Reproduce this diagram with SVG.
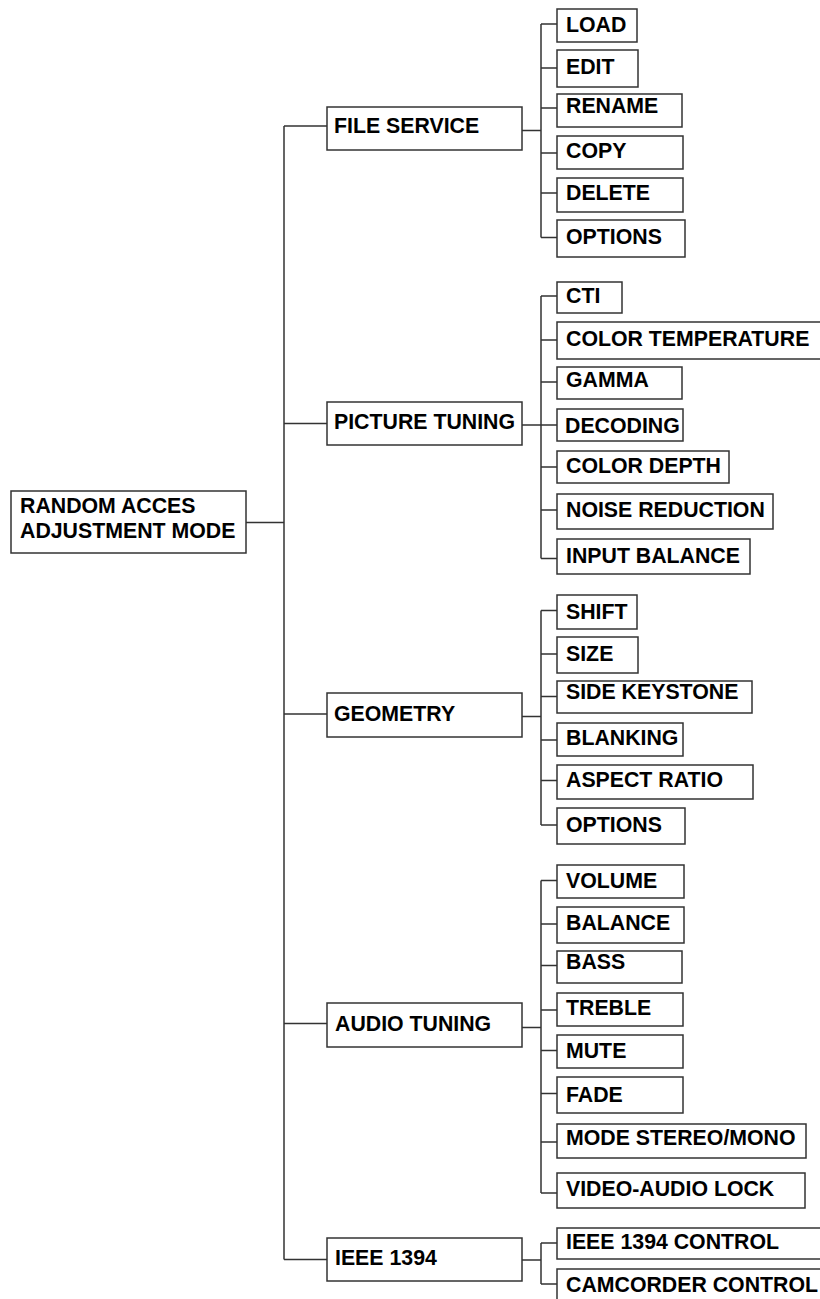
<svg xmlns="http://www.w3.org/2000/svg" width="820" height="1299" viewBox="0 0 820 1299">
<style>
.b{fill:#fff;stroke:#333;stroke-width:1.5}
.t{font-family:"Liberation Sans",Arial,sans-serif;font-weight:bold;font-size:21.3px;fill:#000}
.c{fill:none;stroke:#333;stroke-width:1.5}
</style>
<rect width="820" height="1299" fill="#fff"/>
<g id="connectors">
<path class="c" d="M246 522.5H284M284 126V1259.5M284 126H327M284 423.5H327M284 714H327M284 1023.5H327M284 1259.5H327"/>
<path class="c" d="M522 130.5H541M541 24V237.5M541 24H557M541 68H557M541 108H557M541 153H557M541 193H557M541 237.5H557"/>
<path class="c" d="M522 425H541M541 296V558.5M541 296H557M541 340H557M541 382H557M541 425H557M541 467H557M541 510H557M541 558.5H557"/>
<path class="c" d="M522 716.5H541M541 610.5V825M541 610.5H557M541 654H557M541 696.5H557M541 740H557M541 780.5H557M541 825H557"/>
<path class="c" d="M522 1027.5H541M541 880.5V1193M541 880.5H557M541 924H557M541 965.5H557M541 1010H557M541 1050.5H557M541 1093.5H557M541 1142H557M541 1193H557"/>
<path class="c" d="M522 1260H541M541 1243V1284M541 1243H557M541 1284H557"/>
</g>
<g id="root"><rect class="b" x="11" y="491" width="235" height="62"/><text class="t" x="20" y="513">RANDOM ACCES</text><text class="t" x="20" y="538">ADJUSTMENT MODE</text></g>
<g id="file-service"><rect class="b" x="327" y="107" width="195" height="43"/><text class="t" x="334" y="133">FILE SERVICE</text></g>
<g id="picture-tuning"><rect class="b" x="327" y="402" width="195" height="43"/><text class="t" x="334" y="429">PICTURE TUNING</text></g>
<g id="geometry"><rect class="b" x="327" y="693" width="195" height="44"/><text class="t" x="334" y="721">GEOMETRY</text></g>
<g id="audio-tuning"><rect class="b" x="327" y="1003" width="195" height="44"/><text class="t" x="335" y="1031">AUDIO TUNING</text></g>
<g id="ieee-1394"><rect class="b" x="327" y="1238" width="195" height="43"/><text class="t" x="335" y="1265">IEEE 1394</text></g>
<g id="load"><rect class="b" x="557" y="9" width="80" height="33"/><text class="t" x="566" y="31.5">LOAD</text></g>
<g id="edit"><rect class="b" x="557" y="50" width="81" height="37"/><text class="t" x="566" y="74">EDIT</text></g>
<g id="rename"><rect class="b" x="557" y="94" width="125" height="33"/><text class="t" x="566" y="113">RENAME</text></g>
<g id="copy"><rect class="b" x="557" y="136" width="126" height="33"/><text class="t" x="566" y="158">COPY</text></g>
<g id="delete"><rect class="b" x="557" y="178" width="126" height="34"/><text class="t" x="566" y="200">DELETE</text></g>
<g id="fs-options"><rect class="b" x="557" y="220" width="128" height="37"/><text class="t" x="566" y="243.5">OPTIONS</text></g>
<g id="cti"><rect class="b" x="557" y="282" width="65" height="31"/><text class="t" x="566" y="303">CTI</text></g>
<g id="color-temperature"><rect class="b" x="557" y="322" width="270" height="37"/><text class="t" x="566" y="346">COLOR TEMPERATURE</text></g>
<g id="gamma"><rect class="b" x="557" y="367" width="125" height="32"/><text class="t" x="566" y="386.5">GAMMA</text></g>
<g id="decoding"><rect class="b" x="557" y="409" width="126" height="32"/><text class="t" x="565" y="433">DECODING</text></g>
<g id="color-depth"><rect class="b" x="557" y="451" width="172" height="32"/><text class="t" x="566" y="473">COLOR DEPTH</text></g>
<g id="noise-reduction"><rect class="b" x="557" y="494" width="216" height="35"/><text class="t" x="566" y="516.5">NOISE REDUCTION</text></g>
<g id="input-balance"><rect class="b" x="557" y="539" width="193" height="35"/><text class="t" x="566" y="563">INPUT BALANCE</text></g>
<g id="shift"><rect class="b" x="557" y="595" width="80" height="34"/><text class="t" x="566" y="619">SHIFT</text></g>
<g id="size"><rect class="b" x="557" y="637" width="81" height="36"/><text class="t" x="566" y="661">SIZE</text></g>
<g id="side-keystone"><rect class="b" x="557" y="681" width="195" height="32"/><text class="t" x="566" y="699">SIDE KEYSTONE</text></g>
<g id="blanking"><rect class="b" x="557" y="723" width="126" height="33"/><text class="t" x="566" y="745">BLANKING</text></g>
<g id="aspect-ratio"><rect class="b" x="557" y="765" width="196" height="34"/><text class="t" x="566" y="787">ASPECT RATIO</text></g>
<g id="geo-options"><rect class="b" x="557" y="808" width="128" height="36"/><text class="t" x="566" y="831.5">OPTIONS</text></g>
<g id="volume"><rect class="b" x="557" y="865" width="127" height="33"/><text class="t" x="566" y="888">VOLUME</text></g>
<g id="balance"><rect class="b" x="557" y="907" width="127" height="36"/><text class="t" x="566" y="930">BALANCE</text></g>
<g id="bass"><rect class="b" x="557" y="951" width="125" height="32"/><text class="t" x="566" y="969">BASS</text></g>
<g id="treble"><rect class="b" x="557" y="993" width="126" height="33"/><text class="t" x="566" y="1015">TREBLE</text></g>
<g id="mute"><rect class="b" x="557" y="1035" width="126" height="33"/><text class="t" x="566" y="1058">MUTE</text></g>
<g id="fade"><rect class="b" x="557" y="1077" width="126" height="36"/><text class="t" x="566" y="1101.5">FADE</text></g>
<g id="mode-stereo-mono"><rect class="b" x="557" y="1124" width="249" height="34"/><text class="t" x="566" y="1145">MODE STEREO/MONO</text></g>
<g id="video-audio-lock"><rect class="b" x="557" y="1173" width="248" height="35"/><text class="t" x="566" y="1196">VIDEO-AUDIO LOCK</text></g>
<g id="ieee-1394-control"><rect class="b" x="557" y="1228" width="270" height="31"/><text class="t" x="566" y="1249">IEEE 1394 CONTROL</text></g>
<g id="camcorder-control"><rect class="b" x="557" y="1269" width="270" height="40"/><text class="t" x="566" y="1292">CAMCORDER CONTROL</text></g>
</svg>
